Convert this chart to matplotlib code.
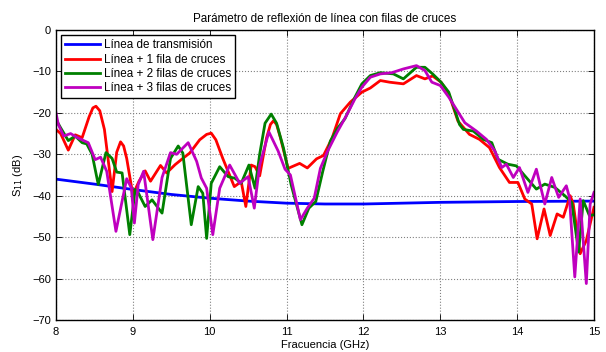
import matplotlib
matplotlib.use("Agg")
import matplotlib.pyplot as plt

plt.rcParams['font.family'] = ['Liberation Sans', 'DejaVu Sans']

# datos (frecuencia en GHz, S11 en dB)
f_linea = [8.0, 8.5, 9.0, 9.5, 10.0, 10.5, 11.0, 11.5, 12.0, 13.0, 14.0, 15.0]
s_linea = [-36.0, -37.2, -38.5, -39.7, -40.6, -41.3, -41.8, -42.0, -42.0, -41.6, -41.4, -41.3]

f_1fila = [8.0, 8.06, 8.16, 8.25, 8.34, 8.43, 8.48, 8.52, 8.57, 8.63, 8.73, 8.79, 8.84,
           8.88, 8.92, 9.0, 9.08, 9.16, 9.23, 9.36, 9.44, 9.55, 9.65, 9.74, 9.87, 9.96,
           10.02, 10.08, 10.17, 10.32, 10.41, 10.47, 10.54, 10.59, 10.65, 10.74, 10.79,
           10.83, 10.87, 10.92, 11.02, 11.17, 11.27, 11.39, 11.48, 11.59, 11.7, 11.83,
           11.98, 12.09, 12.22, 12.34, 12.52, 12.69, 12.8, 12.9, 13.01, 13.11, 13.23,
           13.38, 13.51, 13.64, 13.77, 13.9, 14.01, 14.1, 14.19, 14.26, 14.35, 14.43,
           14.52, 14.6, 14.69, 14.73, 14.82, 14.9, 15.0]
s_1fila = [-24.0, -25.0, -29.0, -25.3, -26.0, -21.0, -18.8, -18.4, -19.5, -24.0, -39.0,
           -29.5, -27.0, -28.0, -31.0, -39.8, -36.5, -34.0, -36.5, -32.7, -34.5, -32.5,
           -31.0, -29.7, -26.5, -25.2, -24.9, -26.5, -31.0, -37.8, -36.6, -42.6, -32.6,
           -33.0, -35.2, -26.0, -22.8, -21.9, -22.8, -26.0, -33.4, -32.2, -33.3, -31.1,
           -30.3, -26.2, -20.2, -17.4, -15.0, -14.0, -12.2, -12.6, -13.0, -11.0, -11.8,
           -11.1, -12.6, -15.4, -22.0, -25.2, -26.4, -28.4, -33.2, -36.8, -36.8, -40.8,
           -42.0, -50.4, -43.2, -49.6, -44.4, -45.2, -40.0, -42.0, -54.0, -50.8, -42.8]

f_2filas = [8.0, 8.06, 8.16, 8.25, 8.34, 8.4, 8.47, 8.55, 8.65, 8.73, 8.79, 8.86, 8.96,
            9.03, 9.07, 9.16, 9.25, 9.38, 9.49, 9.59, 9.65, 9.76, 9.85, 9.91, 9.96,
            10.02, 10.13, 10.24, 10.33, 10.41, 10.51, 10.59, 10.65, 10.72, 10.8, 10.87,
            10.96, 11.06, 11.2, 11.29, 11.38, 11.47, 11.57, 11.66, 11.76, 11.89, 11.98,
            12.09, 12.22, 12.39, 12.52, 12.69, 12.8, 12.9, 13.01, 13.11, 13.25, 13.3,
            13.43, 13.56, 13.67, 13.75, 13.88, 13.99, 14.1, 14.25, 14.36, 14.49, 14.62,
            14.71, 14.8, 14.86, 14.94, 15.0]
s_2filas = [-21.6, -23.6, -26.7, -25.6, -27.2, -27.5, -30.0, -37.3, -29.6, -31.0, -34.3,
            -34.5, -49.4, -38.5, -39.3, -42.6, -41.0, -44.2, -31.0, -28.0, -29.7, -47.0,
            -37.8, -39.4, -50.3, -37.0, -33.0, -35.4, -35.8, -37.0, -32.6, -38.2, -30.0,
            -22.5, -20.3, -22.5, -28.5, -37.4, -47.0, -43.0, -41.4, -34.2, -26.8, -23.8,
            -21.4, -16.2, -13.0, -11.0, -10.3, -10.6, -11.8, -9.0, -9.0, -10.6, -12.6,
            -15.0, -22.8, -24.0, -24.4, -26.4, -27.2, -31.2, -32.4, -32.8, -35.2, -38.4,
            -37.2, -38.0, -40.0, -41.6, -53.6, -41.2, -44.8, -44.6]

f_3filas = [8.0, 8.03, 8.1, 8.19, 8.27, 8.36, 8.42, 8.51, 8.58, 8.66, 8.78, 8.92, 8.98,
            9.02, 9.07, 9.14, 9.26, 9.38, 9.49, 9.57, 9.72, 9.83, 9.89, 9.96, 10.04,
            10.13, 10.26, 10.39, 10.5, 10.58, 10.65, 10.77, 10.89, 10.98, 11.05, 11.18,
            11.27, 11.36, 11.44, 11.53, 11.66, 11.78, 11.89, 11.98, 12.09, 12.22, 12.37,
            12.52, 12.69, 12.8, 12.89, 13.0, 13.11, 13.32, 13.47, 13.6, 13.71, 13.8,
            13.86, 13.95, 14.03, 14.14, 14.25, 14.36, 14.45, 14.54, 14.64, 14.68, 14.75,
            14.82, 14.9, 14.95, 15.0]
s_3filas = [-20.0, -22.8, -25.6, -25.0, -25.9, -26.7, -27.2, -31.3, -30.7, -34.1, -48.6,
            -35.9, -38.1, -46.6, -37.3, -34.1, -50.6, -35.6, -29.6, -30.0, -27.2, -31.7,
            -35.7, -38.2, -49.4, -38.2, -32.6, -37.0, -35.4, -43.0, -32.6, -24.6, -29.2,
            -33.6, -35.0, -45.8, -43.0, -40.6, -33.4, -29.4, -24.6, -20.6, -16.6, -13.8,
            -11.4, -10.6, -10.3, -9.4, -8.6, -9.8, -12.6, -13.4, -16.2, -22.4, -24.4,
            -26.4, -29.2, -33.2, -32.4, -35.6, -33.2, -39.2, -33.6, -42.0, -35.6, -40.4,
            -37.6, -40.4, -59.6, -40.8, -61.2, -42.0, -39.2]

x_ticks = [8, 9, 10, 11, 12, 13, 14, 15]
y_ticks = [0, -10, -20, -30, -40, -50, -60, -70]

fig = plt.figure(figsize=(6.06, 3.52), dpi=100)
ax = fig.add_axes([0.0924, 0.0909, 0.8878, 0.8239])

ax.plot(f_linea, s_linea, color='#0000ff', lw=2.0, label='Línea de transmisión')
ax.plot(f_1fila, s_1fila, color='#ff0000', lw=2.0, label='Línea + 1 fila de cruces')
ax.plot(f_2filas, s_2filas, color='#008000', lw=2.0, label='Línea + 2 filas de cruces')
ax.plot(f_3filas, s_3filas, color='#bf00bf', lw=2.0, label='Línea + 3 filas de cruces')

ax.set_xlim(8, 15)
ax.set_ylim(-70, 0)
ax.set_xticks(x_ticks)
ax.set_yticks(y_ticks)
ax.tick_params(direction='in', top=True, right=True, labelsize=8, length=4, width=0.6)
ax.tick_params(axis='x', pad=5)
ax.grid(True, linestyle=':', color='#808080', linewidth=0.8)
for s in ax.spines.values():
    s.set_linewidth(1.0)

ax.set_xlabel('Fracuencia (GHz)', fontsize=8, labelpad=2)
ax.set_ylabel('S$_{11}$ (dB)', fontsize=8, labelpad=5)
ax.set_title('Parámetro de reflexión de línea con filas de cruces', fontsize=8.4, pad=6)

leg = ax.legend(loc='upper left', fontsize=8.4, fancybox=False, framealpha=1,
                edgecolor='black', borderpad=0.35, labelspacing=0.2,
                handlelength=3.0, handletextpad=0.3, borderaxespad=0.45)
leg.get_frame().set_linewidth(1.0)

fig.savefig('out.png', dpi=100)
